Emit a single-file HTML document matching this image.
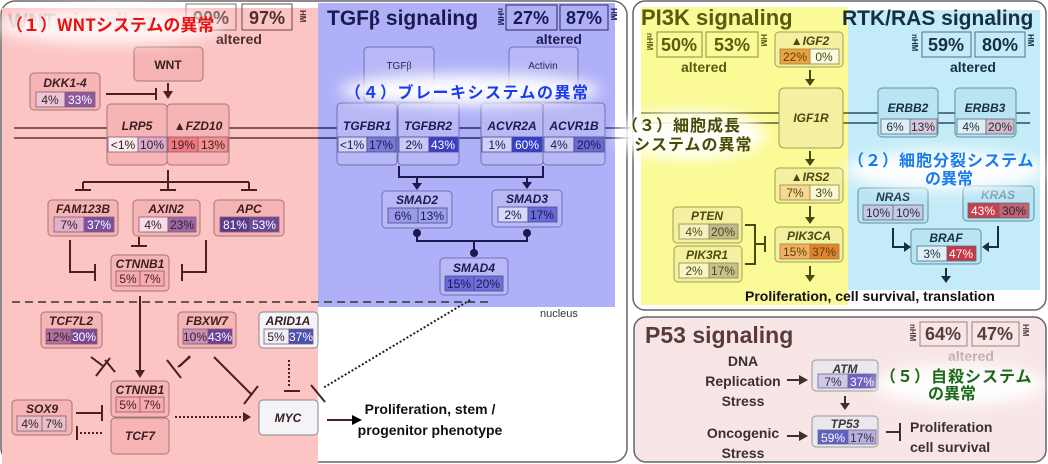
<!DOCTYPE html>
<html><head><meta charset="utf-8"><style>
html,body{margin:0;padding:0;background:#fff;}
svg{display:block;font-family:"Liberation Sans","Noto Sans CJK JP",sans-serif;}
.t{font-size:12px;font-weight:bold;font-style:italic;text-anchor:middle;}
.c{font-size:12px;text-anchor:middle;}
.w{fill:#fff;}
.jp{font-family:"Noto Sans CJK JP","WenQuanYi Zen Hei",sans-serif;font-weight:bold;}
</style></head><body>
<svg width="1048" height="464" viewBox="0 0 1048 464" xmlns="http://www.w3.org/2000/svg">
<defs>
<filter id="glow" x="-20%" y="-60%" width="140%" height="220%"><feGaussianBlur stdDeviation="7"/></filter>
</defs>
<rect x="1" y="1" width="626" height="461" rx="14" fill="#fff" stroke="#666" stroke-width="1.5"/>
<rect x="2" y="8" width="316" height="456" fill="#fdc4c4"/>
<rect x="318" y="3" width="297" height="304" fill="#b0b0f8"/>
<rect x="633" y="1" width="413" height="309" rx="12" fill="#fff" stroke="#666" stroke-width="1.5"/>
<rect x="641" y="7" width="207" height="298" fill="#fafa96"/>
<rect x="848" y="10" width="192" height="280" fill="#c4ecf8"/>
<rect x="634" y="317" width="412" height="145" rx="12" fill="#f8e6e6" stroke="#666" stroke-width="1.5"/>

<g stroke="#5a3a3a" stroke-width="1.5">
<line x1="14" y1="128" x2="318" y2="128"/><line x1="14" y1="138" x2="318" y2="138"/></g>
<g stroke="#2a2a60" stroke-width="1.5">
<line x1="318" y1="128" x2="630" y2="128"/><line x1="318" y1="138" x2="630" y2="138"/></g>
<g stroke="#5a5a20" stroke-width="1.5">
<line x1="641" y1="113" x2="848" y2="113"/><line x1="641" y1="123" x2="848" y2="123"/></g>
<g stroke="#2a5060" stroke-width="1.5">
<line x1="848" y1="113" x2="1030" y2="113"/><line x1="848" y1="123" x2="1030" y2="123"/></g>

<text x="8" y="28" font-size="21" font-weight="bold" fill="#8a6a6a" opacity="0.5">WNT signaling</text>
<rect x="186" y="4" width="50" height="26" fill="none" stroke="#8a6a6a"/>
<text x="211" y="24" font-size="18" font-weight="bold" text-anchor="middle" fill="#6a4a4a">90%</text>
<rect x="242" y="4" width="50" height="26" fill="none" stroke="#6a4a4a"/>
<text x="267" y="24" font-size="18" font-weight="bold" text-anchor="middle" fill="#4a3030">97%</text>
<text x="300" y="10" font-size="8" font-weight="bold" fill="#4a3030" transform="rotate(90 300 10)">HM</text>
<text x="216" y="44" font-size="14" font-weight="bold" fill="#4a3030">altered</text>

<text x="327" y="25" font-size="21" font-weight="bold" fill="#1a1a50">TGF<tspan font-family="Liberation Serif">β</tspan> signaling</text>
<text x="498" y="8" font-size="8" font-weight="bold" fill="#1a1a50" transform="rotate(90 498 8)">nHM</text>
<rect x="506" y="5" width="51" height="25" fill="none" stroke="#2a2a60"/>
<text x="531" y="24" font-size="18" font-weight="bold" text-anchor="middle" fill="#1a1a50">27%</text>
<rect x="560" y="5" width="48" height="25" fill="none" stroke="#2a2a60"/>
<text x="584" y="24" font-size="18" font-weight="bold" text-anchor="middle" fill="#1a1a50">87%</text>
<text x="611" y="8" font-size="8" font-weight="bold" fill="#1a1a50" transform="rotate(90 611 8)">HM</text>
<text x="536" y="44" font-size="14" font-weight="bold" fill="#1a1a50">altered</text>

<g stroke="#a07878" fill="#f7b4b4">
<rect x="134" y="47" width="69" height="34" rx="4"/>
<rect x="30" y="73" width="70" height="37" rx="4"/>
<rect x="107" y="104" width="60" height="61" rx="4"/>
<rect x="167" y="104" width="62" height="61" rx="4"/>
<rect x="48" y="200" width="70" height="36" rx="4"/>
<rect x="133" y="200" width="67" height="36" rx="4"/>
<rect x="214" y="200" width="70" height="36" rx="4"/>
<rect x="111" y="255" width="58" height="36" rx="4"/>
<rect x="41" y="312" width="61" height="36" rx="4"/>
<rect x="178" y="312" width="58" height="36" rx="4"/>
<rect x="111" y="381" width="58" height="36" rx="4"/>
<rect x="111" y="418" width="58" height="36" rx="4"/>
<rect x="12" y="400" width="60" height="35" rx="4"/>
</g>
<g stroke="#888" fill="#f4f4f8">
<rect x="259" y="312" width="59" height="36" rx="4"/>
<rect x="259" y="400" width="59" height="35" rx="4"/>
</g>
<g fill="#3a2020">
<text x="168" y="69" font-size="12" font-weight="bold" text-anchor="middle">WNT</text>
<text x="65" y="87" class="t">DKK1-4</text>
<text x="137" y="130" class="t">LRP5</text>
<text x="198" y="130" class="t">▲FZD10</text>
<text x="83" y="213" class="t">FAM123B</text>
<text x="166" y="213" class="t">AXIN2</text>
<text x="249" y="213" class="t">APC</text>
<text x="140" y="268" class="t">CTNNB1</text>
<text x="71" y="325" class="t">TCF7L2</text>
<text x="207" y="325" class="t">FBXW7</text>
<text x="288" y="325" class="t">ARID1A</text>
<text x="140" y="394" class="t">CTNNB1</text>
<text x="140" y="440" class="t">TCF7</text>
<text x="42" y="413" class="t">SOX9</text>
<text x="288" y="422" class="t">MYC</text>
</g>
<g stroke="#8a5a70" stroke-width="0.8">
<rect x="36" y="92" width="29" height="15" fill="#eac6d8"/><rect x="65" y="92" width="30" height="15" fill="#8a5aa0"/>
<rect x="108" y="137" width="30" height="15" fill="#fbeaee"/><rect x="138" y="137" width="29" height="15" fill="#d8aacc"/>
<rect x="168" y="137" width="30" height="15" fill="#f07a80"/><rect x="198" y="137" width="30" height="15" fill="#f59090"/>
<rect x="54" y="217" width="30" height="15" fill="#deb0cc"/><rect x="84" y="217" width="30" height="15" fill="#7a50a0"/>
<rect x="139" y="217" width="29" height="15" fill="#f6dce4"/><rect x="168" y="217" width="28" height="15" fill="#9a6aa8"/>
<rect x="220" y="217" width="30" height="15" fill="#5a3a90"/><rect x="250" y="217" width="29" height="15" fill="#6a4a98"/>
<rect x="116" y="271" width="24" height="15" fill="#f8aab0"/><rect x="140" y="271" width="24" height="15" fill="#f8aab0"/>
<rect x="46" y="329" width="25" height="15" fill="#b070a0"/><rect x="71" y="329" width="26" height="15" fill="#7a4a98"/>
<rect x="183" y="329" width="25" height="15" fill="#c890b8"/><rect x="208" y="329" width="24" height="15" fill="#6a4098"/>
<rect x="264" y="329" width="25" height="15" fill="#eeeef8"/><rect x="289" y="329" width="24" height="15" fill="#4a50b0"/>
<rect x="116" y="397" width="24" height="15" fill="#f8aab0"/><rect x="140" y="397" width="24" height="15" fill="#f8aab0"/>
<rect x="17" y="416" width="25" height="15" fill="#e8c0cc"/><rect x="42" y="416" width="24" height="15" fill="#e8c0cc"/>
</g>
<g fill="#3a2020">
<text x="50" y="104" class="c">4%</text><text x="80" y="104" class="c w">33%</text>
<text x="123" y="149" class="c">&lt;1%</text><text x="152" y="149" class="c">10%</text>
<text x="183" y="149" class="c">19%</text><text x="213" y="149" class="c">13%</text>
<text x="69" y="229" class="c">7%</text><text x="99" y="229" class="c w">37%</text>
<text x="153" y="229" class="c">4%</text><text x="182" y="229" class="c">23%</text>
<text x="235" y="229" class="c w">81%</text><text x="264" y="229" class="c w">53%</text>
<text x="128" y="283" class="c">5%</text><text x="152" y="283" class="c">7%</text>
<text x="58" y="341" class="c">12%</text><text x="84" y="341" class="c w">30%</text>
<text x="195" y="341" class="c">10%</text><text x="220" y="341" class="c w">43%</text>
<text x="276" y="341" class="c">5%</text><text x="301" y="341" class="c w">37%</text>
<text x="128" y="409" class="c">5%</text><text x="152" y="409" class="c">7%</text>
<text x="30" y="428" class="c">4%</text><text x="54" y="428" class="c">7%</text>
</g>
<g stroke="#4a2020" stroke-width="2" fill="none">
<line x1="106" y1="94" x2="156" y2="94"/><line x1="156" y1="88" x2="156" y2="100"/>
<line x1="168" y1="83" x2="168" y2="96"/>
<line x1="168" y1="170" x2="168" y2="182"/>
<line x1="83" y1="182" x2="249" y2="182"/>
<line x1="83" y1="182" x2="83" y2="190"/><line x1="75" y1="190" x2="91" y2="190"/>
<line x1="168" y1="182" x2="168" y2="190"/><line x1="160" y1="190" x2="176" y2="190"/>
<line x1="249" y1="182" x2="249" y2="190"/><line x1="241" y1="190" x2="257" y2="190"/>
<line x1="139" y1="237" x2="139" y2="246"/><line x1="131" y1="246" x2="147" y2="246"/>
<polyline points="70,240 70,272 95,272"/><line x1="95" y1="264" x2="95" y2="281"/>
<polyline points="206,240 206,272 182,272"/><line x1="182" y1="264" x2="182" y2="281"/>
<line x1="140" y1="296" x2="140" y2="372"/>
<line x1="105" y1="360" x2="115" y2="372"/>
<line x1="190" y1="356" x2="180" y2="366"/>
<line x1="214" y1="357" x2="252" y2="395"/><line x1="244" y1="404" x2="258" y2="386"/>
<line x1="76" y1="413" x2="102" y2="413"/><line x1="102" y1="405" x2="102" y2="421"/>
<line x1="77" y1="426" x2="77" y2="440"/>
<line x1="327" y1="420" x2="352" y2="420"/>
<line x1="284" y1="391" x2="300" y2="391"/>
<line x1="311" y1="385" x2="325" y2="402"/>
</g>
<g stroke="#4a2020" stroke-width="2">
<line x1="91" y1="357" x2="103" y2="366"/><line x1="96" y1="376" x2="110" y2="358"/>
<line x1="190" y1="357" x2="178" y2="367"/><line x1="167" y1="360" x2="181" y2="378"/>
</g>
<polygon points="135,370 145,370 140,378" fill="#4a2020"/>
<polygon points="163,91 173,91 168,99" fill="#4a2020"/>
<polygon points="352,415 352,425 362,420" fill="#000"/>
<g stroke="#4a2020" stroke-width="2" stroke-dasharray="2,2">
<line x1="80" y1="433" x2="102" y2="433"/>
<line x1="175" y1="417" x2="243" y2="417"/>
<line x1="289" y1="360" x2="289" y2="386"/>
<line x1="470" y1="300" x2="323" y2="388" stroke="#222"/>
</g>
<polygon points="243,412 243,422 251,417" fill="#4a2020"/>
<line x1="12" y1="302" x2="493" y2="302" stroke="#333" stroke-width="1.5" stroke-dasharray="8,5"/>
<text x="540" y="317" font-size="11" fill="#333">nucleus</text>
<text x="430" y="414" font-size="14" font-weight="bold" text-anchor="middle" fill="#111">Proliferation, stem /</text>
<text x="430" y="435" font-size="14" font-weight="bold" text-anchor="middle" fill="#111">progenitor phenotype</text>

<g stroke="#7070b8" fill="#b8b8f6">
<rect x="364" y="47" width="70" height="55" rx="4"/>
<rect x="509" y="47" width="69" height="55" rx="4"/>
<rect x="337" y="103" width="60" height="62" rx="4"/>
<rect x="398" y="103" width="61" height="62" rx="4"/>
<rect x="481" y="103" width="62" height="62" rx="4"/>
<rect x="543" y="103" width="62" height="62" rx="4"/>
<rect x="382" y="191" width="70" height="37" rx="4"/>
<rect x="492" y="190" width="70" height="37" rx="4"/>
<rect x="440" y="258" width="68" height="37" rx="4"/>
</g>
<g fill="#1a1a50">
<text x="399" y="69" font-size="10" text-anchor="middle">TGF<tspan font-family="Liberation Serif">β</tspan></text>
<text x="543" y="69" font-size="10" text-anchor="middle">Activin</text>
<text x="367" y="130" class="t">TGFBR1</text>
<text x="428" y="130" class="t">TGFBR2</text>
<text x="512" y="130" class="t">ACVR2A</text>
<text x="574" y="130" class="t">ACVR1B</text>
<text x="417" y="204" class="t">SMAD2</text>
<text x="527" y="203" class="t">SMAD3</text>
<text x="474" y="272" class="t">SMAD4</text>
</g>
<g stroke="#4a4a90" stroke-width="0.8">
<rect x="338" y="137" width="29" height="15" fill="#d4d4f8"/><rect x="367" y="137" width="29" height="15" fill="#7a7ad8"/>
<rect x="399" y="137" width="30" height="15" fill="#c8c8f4"/><rect x="429" y="137" width="29" height="15" fill="#3a40c0"/>
<rect x="482" y="137" width="30" height="15" fill="#d0d0f8"/><rect x="512" y="137" width="30" height="15" fill="#3540c8"/>
<rect x="544" y="137" width="30" height="15" fill="#c8c8f4"/><rect x="574" y="137" width="30" height="15" fill="#6a6ad0"/>
<rect x="388" y="208" width="30" height="15" fill="#9a9ae8"/><rect x="418" y="208" width="29" height="15" fill="#a0a0ea"/>
<rect x="498" y="207" width="30" height="15" fill="#d8d8fa"/><rect x="528" y="207" width="29" height="15" fill="#6a6ad8"/>
<rect x="445" y="276" width="29" height="15" fill="#6a6ad8"/><rect x="474" y="276" width="29" height="15" fill="#7070d8"/>
</g>
<g fill="#1a1a50">
<text x="352" y="149" class="c">&lt;1%</text><text x="381" y="149" class="c">17%</text>
<text x="414" y="149" class="c">2%</text><text x="443" y="149" class="c w">43%</text>
<text x="497" y="149" class="c">1%</text><text x="527" y="149" class="c w">60%</text>
<text x="559" y="149" class="c">4%</text><text x="589" y="149" class="c">20%</text>
<text x="403" y="220" class="c">6%</text><text x="432" y="220" class="c">13%</text>
<text x="513" y="219" class="c">2%</text><text x="542" y="219" class="c">17%</text>
<text x="459" y="288" class="c">15%</text><text x="488" y="288" class="c">20%</text>
</g>
<g stroke="#1a1a50" stroke-width="2" fill="none">
<polyline points="399,166 399,177 543,177 543,166"/>
<line x1="417" y1="177" x2="417" y2="184"/><line x1="527" y1="177" x2="527" y2="183"/>
<polyline points="417,232 417,241 527,241 527,232"/>
<line x1="474" y1="241" x2="474" y2="252"/>
</g>
<g fill="#1a1a50">
<polygon points="412,183 422,183 417,190"/><polygon points="522,182 532,182 527,189"/>
<circle cx="417" cy="233" r="4"/><circle cx="527" cy="233" r="4"/><circle cx="474" cy="253" r="4"/>
</g>

<text x="641" y="25" font-size="22" font-weight="bold" fill="#5a5a10">PI3K signaling</text>
<text x="647" y="33" font-size="8" font-weight="bold" fill="#5a5a10" transform="rotate(90 647 33)">nHM</text>
<rect x="657" y="32" width="45" height="25" fill="none" stroke="#8a8a40"/>
<text x="679" y="51" font-size="18" font-weight="bold" text-anchor="middle" fill="#5a5a10">50%</text>
<rect x="706" y="32" width="52" height="25" fill="none" stroke="#8a8a40"/>
<text x="732" y="51" font-size="18" font-weight="bold" text-anchor="middle" fill="#5a5a10">53%</text>
<text x="761" y="34" font-size="8" font-weight="bold" fill="#5a5a10" transform="rotate(90 761 34)">HM</text>
<text x="681" y="72" font-size="14" font-weight="bold" fill="#5a5a10">altered</text>
<g stroke="#a0a050" fill="#f4f0a0">
<rect x="775" y="32" width="68" height="35" rx="4"/>
<rect x="779" y="88" width="64" height="60" rx="5"/>
<rect x="775" y="168" width="68" height="35" rx="4"/>
<rect x="775" y="227" width="68" height="35" rx="4"/>
<rect x="673" y="207" width="69" height="36" rx="4"/>
<rect x="674" y="246" width="68" height="36" rx="4"/>
</g>
<g fill="#4a4a10">
<text x="810" y="45" class="t">▲IGF2</text>
<text x="811" y="122" class="t">IGF1R</text>
<text x="810" y="181" class="t">▲IRS2</text>
<text x="809" y="240" class="t">PIK3CA</text>
<text x="707" y="220" class="t">PTEN</text>
<text x="707" y="259" class="t">PIK3R1</text>
</g>
<g stroke="#8a8a40" stroke-width="0.8">
<rect x="780" y="49" width="30" height="15" fill="#f0a040"/><rect x="810" y="49" width="29" height="15" fill="#fafae0"/>
<rect x="780" y="185" width="30" height="15" fill="#f8d890"/><rect x="810" y="185" width="29" height="15" fill="#fafad0"/>
<rect x="780" y="244" width="30" height="15" fill="#f4b060"/><rect x="810" y="244" width="29" height="15" fill="#e88030"/>
<rect x="679" y="224" width="30" height="15" fill="#f4f0c0"/><rect x="709" y="224" width="29" height="15" fill="#c0b890"/>
<rect x="679" y="263" width="30" height="15" fill="#f8f4c8"/><rect x="709" y="263" width="29" height="15" fill="#c8c090"/>
</g>
<g fill="#4a4a10">
<text x="795" y="61" class="c">22%</text><text x="824" y="61" class="c">0%</text>
<text x="795" y="197" class="c">7%</text><text x="824" y="197" class="c">3%</text>
<text x="795" y="256" class="c">15%</text><text x="824" y="256" class="c">37%</text>
<text x="694" y="236" class="c">4%</text><text x="723" y="236" class="c">20%</text>
<text x="694" y="275" class="c">2%</text><text x="723" y="275" class="c">17%</text>
</g>
<g stroke="#4a4a10" stroke-width="2" fill="none">
<line x1="810" y1="70" x2="810" y2="80"/><line x1="810" y1="151" x2="810" y2="160"/>
<line x1="810" y1="206" x2="810" y2="218"/><line x1="810" y1="266" x2="810" y2="276"/>
<polyline points="745,225 755,225 755,264 745,264"/><line x1="755" y1="244" x2="765" y2="244"/>
<line x1="765" y1="236" x2="765" y2="252"/>
</g>
<g fill="#4a4a10">
<polygon points="805,79 815,79 810,86"/><polygon points="805,159 815,159 810,166"/>
<polygon points="805,217 815,217 810,224"/><polygon points="805,275 815,275 810,282"/>
</g>
<text x="745" y="301" font-size="14" font-weight="bold" fill="#111">Proliferation, cell survival, translation</text>

<text x="842" y="25" font-size="21" font-weight="bold" fill="#163040">RTK/RAS signaling</text>
<text x="912" y="34" font-size="8" font-weight="bold" fill="#163040" transform="rotate(90 912 34)">nHM</text>
<rect x="922" y="32" width="49" height="25" fill="none" stroke="#507080"/>
<text x="946" y="51" font-size="18" font-weight="bold" text-anchor="middle" fill="#163040">59%</text>
<rect x="975" y="32" width="50" height="25" fill="none" stroke="#507080"/>
<text x="1000" y="51" font-size="18" font-weight="bold" text-anchor="middle" fill="#163040">80%</text>
<text x="1028" y="34" font-size="8" font-weight="bold" fill="#163040" transform="rotate(90 1028 34)">HM</text>
<text x="950" y="72" font-size="14" font-weight="bold" fill="#163040">altered</text>
<g stroke="#6090a0" fill="#b8e4f4">
<rect x="878" y="88" width="60" height="49" rx="4"/>
<rect x="955" y="88" width="61" height="49" rx="4"/>
<rect x="858" y="188" width="70" height="35" rx="4"/>
<rect x="963" y="186" width="71" height="35" rx="4"/>
<rect x="911" y="229" width="70" height="35" rx="4"/>
</g>
<g fill="#163040">
<text x="908" y="112" class="t">ERBB2</text>
<text x="985" y="112" class="t">ERBB3</text>
<text x="893" y="201" class="t">NRAS</text>
<text x="998" y="199" class="t" fill="#7a9aa8">KRAS</text>
<text x="946" y="242" class="t">BRAF</text>
</g>
<g stroke="#507080" stroke-width="0.8">
<rect x="881" y="119" width="29" height="15" fill="#dfeef4"/><rect x="910" y="119" width="27" height="15" fill="#d8c8d8"/>
<rect x="957" y="119" width="29" height="15" fill="#dfeef4"/><rect x="986" y="119" width="28" height="15" fill="#d8b8c8"/>
<rect x="863" y="205" width="30" height="15" fill="#c8c8e0"/><rect x="893" y="205" width="30" height="15" fill="#c8c8e0"/>
<rect x="968" y="203" width="31" height="15" fill="#c84050"/><rect x="999" y="203" width="30" height="15" fill="#c86070"/>
<rect x="917" y="246" width="30" height="15" fill="#e0f0f8"/><rect x="947" y="246" width="29" height="15" fill="#c83848"/>
</g>
<g fill="#163040">
<text x="895" y="131" class="c">6%</text><text x="923" y="131" class="c">13%</text>
<text x="971" y="131" class="c">4%</text><text x="1000" y="131" class="c">20%</text>
<text x="878" y="217" class="c">10%</text><text x="908" y="217" class="c">10%</text>
<text x="983" y="215" class="c w">43%</text><text x="1014" y="215" class="c">30%</text>
<text x="932" y="258" class="c">3%</text><text x="961" y="258" class="c w">47%</text>
</g>
<g stroke="#163040" stroke-width="2" fill="none">
<polyline points="893,228 893,247 905,247"/>
<polyline points="998,226 998,247 988,247"/>
<line x1="946" y1="268" x2="946" y2="277"/>
</g>
<g fill="#163040">
<polygon points="904,242 904,252 911,247"/><polygon points="989,242 989,252 982,247"/>
<polygon points="941,276 951,276 946,283"/>
</g>

<text x="645" y="343" font-size="23" font-weight="bold" fill="#5a3a3a">P53 signaling</text>
<text x="910" y="324" font-size="8" font-weight="bold" fill="#5a3a3a" transform="rotate(90 910 324)">nHM</text>
<rect x="920" y="322" width="47" height="24" fill="none" stroke="#a08080"/>
<text x="943" y="340" font-size="18" font-weight="bold" text-anchor="middle" fill="#5a3a3a">64%</text>
<rect x="972" y="322" width="47" height="24" fill="none" stroke="#a08080"/>
<text x="995" y="340" font-size="18" font-weight="bold" text-anchor="middle" fill="#5a3a3a">47%</text>
<text x="1023" y="324" font-size="8" font-weight="bold" fill="#5a3a3a" transform="rotate(90 1023 324)">HM</text>
<text x="948" y="361" font-size="14" font-weight="bold" fill="#c0a8a8">altered</text>
<g stroke="#999" fill="#ece6ee">
<rect x="812" y="360" width="66" height="31" rx="4"/>
<rect x="812" y="416" width="66" height="31" rx="4"/>
</g>
<text x="845" y="373" class="t" fill="#3a3a3a">ATM</text>
<text x="845" y="428" class="t" fill="#3a3a3a">TP53</text>
<g stroke="#6a6a90" stroke-width="0.8">
<rect x="818" y="374" width="30" height="14" fill="#d0c8e8"/><rect x="848" y="374" width="28" height="14" fill="#7060c0"/>
<rect x="818" y="430" width="30" height="14" fill="#6060c0"/><rect x="848" y="430" width="28" height="14" fill="#b8b0e0"/>
</g>
<text x="833" y="386" class="c" fill="#333">7%</text><text x="862" y="386" class="c w">37%</text>
<text x="833" y="442" class="c w">59%</text><text x="862" y="442" class="c" fill="#333">17%</text>
<g font-size="14" font-weight="bold" fill="#3a3030" text-anchor="middle">
<text x="743" y="366">DNA</text><text x="743" y="386">Replication</text><text x="743" y="406">Stress</text>
<text x="743" y="438">Oncogenic</text><text x="743" y="458">Stress</text>
</g>
<g font-size="14" font-weight="bold" fill="#3a3030">
<text x="910" y="432">Proliferation</text><text x="910" y="452">cell survival</text>
</g>
<g stroke="#3a3030" stroke-width="2">
<line x1="787" y1="380" x2="800" y2="380"/><line x1="787" y1="436" x2="800" y2="436"/>
<line x1="845" y1="396" x2="845" y2="404"/>
<line x1="886" y1="432" x2="900" y2="432"/><line x1="900" y1="423" x2="900" y2="441"/>
</g>
<g fill="#3a3030">
<polygon points="799,375 799,385 808,380"/><polygon points="799,431 799,441 808,436"/>
<polygon points="840,403 850,403 845,410"/>
</g>

<ellipse cx="110" cy="26" rx="112" ry="18" fill="#fff" opacity="0.85" filter="url(#glow)"/>
<text x="6" y="31" class="jp" font-size="17" fill="#ee1010">（１）WNTシステムの異常</text>
<ellipse cx="470" cy="90" rx="130" ry="16" fill="#fff" opacity="0.95" filter="url(#glow)"/>
<text x="345" y="98" class="jp" font-size="16" fill="#1a3cf0" letter-spacing="1.5">（４）ブレーキシステムの異常</text>
<ellipse cx="690" cy="135" rx="75" ry="24" fill="#fff" opacity="0.95" filter="url(#glow)"/>
<text x="622" y="131" class="jp" font-size="16" fill="#4a4a08" letter-spacing="1">（３）細胞成長</text>
<text x="634" y="150" class="jp" font-size="16" fill="#4a4a08" letter-spacing="1">システムの異常</text>
<ellipse cx="945" cy="170" rx="100" ry="20" fill="#fff" opacity="0.95" filter="url(#glow)"/>
<text x="848" y="166" class="jp" font-size="16" fill="#1a7af0" letter-spacing="1">（２）細胞分裂システム</text>
<text x="925" y="184" class="jp" font-size="16" fill="#1a7af0">の異常</text>
<ellipse cx="960" cy="385" rx="85" ry="20" fill="#fff" opacity="0.95" filter="url(#glow)"/>
<text x="880" y="382" class="jp" font-size="16" fill="#1a6a1a" letter-spacing="1">（５）自殺システム</text>
<text x="928" y="399" class="jp" font-size="16" fill="#1a6a1a">の異常</text>
</svg>
</body></html>
